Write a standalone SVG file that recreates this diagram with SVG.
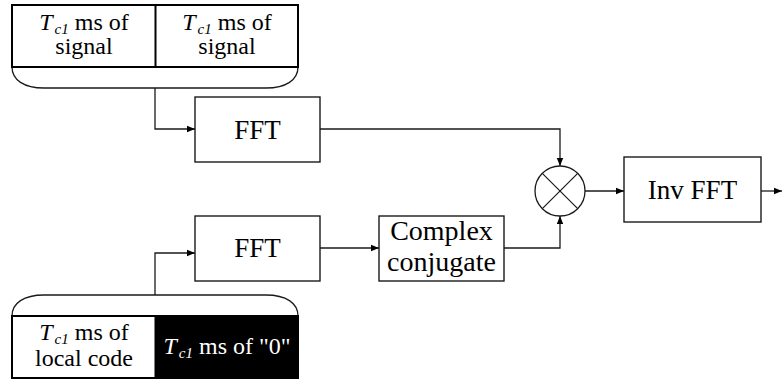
<svg xmlns="http://www.w3.org/2000/svg" width="782" height="381" viewBox="0 0 782 381">
<defs>
<style>
.box{fill:#fff;stroke:#1a1a1a;stroke-width:1.4}
.seg{fill:#fff;stroke:#000;stroke-width:2}
.wire{fill:none;stroke:#1a1a1a;stroke-width:1.3}
text{font-family:"Liberation Serif","Times New Roman",serif;fill:#000}
.big{font-size:27px}
.cc{font-size:28px}
.sm{font-size:24px}
.it{font-style:italic}
.sub{font-size:15px;font-style:italic}
.wt{fill:#fff}
</style>
<marker id="ah" markerWidth="8" markerHeight="8" refX="8" refY="4" orient="auto" markerUnits="userSpaceOnUse">
<path d="M0,0.8 L8,4 L0,7.2 Z" fill="#000"/>
</marker>
</defs>
<rect width="782" height="381" fill="#fff"/>

<g id="connectors">
<path class="wire" d="M12,67 C12,80 24,88 44,88 L266,88 C286,88 298,80 298,67"/>
<path class="wire" d="M155,88 L155,129 L195,129" marker-end="url(#ah)"/>
<path class="wire" d="M12,316 C12,303 24,295 44,295 L266,295 C286,295 298,303 298,316"/>
<path class="wire" d="M155,295 L155,253 L195,253" marker-end="url(#ah)"/>
<path class="wire" d="M320,129 L560,129 L560,166" marker-end="url(#ah)"/>
<path class="wire" d="M320,248 L379,248" marker-end="url(#ah)"/>
<path class="wire" d="M504,248 L560,248 L560,216" marker-end="url(#ah)"/>
<path class="wire" d="M585,191 L624,191" marker-end="url(#ah)"/>
<path class="wire" d="M761,191 L782,191" marker-end="url(#ah)"/>
</g>

<g id="signal-blocks">
<rect class="seg" x="12" y="5" width="286" height="62"/>
<line x1="155.5" y1="5" x2="155.5" y2="67" stroke="#000" stroke-width="2"/>
<text class="sm" x="84" y="30" text-anchor="middle"><tspan class="it">T</tspan><tspan class="sub" dx="2" dy="4">c1</tspan><tspan dy="-4"> ms of</tspan></text>
<text class="sm" x="84" y="54" text-anchor="middle">signal</text>
<text class="sm" x="227" y="30" text-anchor="middle"><tspan class="it">T</tspan><tspan class="sub" dx="2" dy="4">c1</tspan><tspan dy="-4"> ms of</tspan></text>
<text class="sm" x="227" y="54" text-anchor="middle">signal</text>
</g>

<g id="code-blocks">
<rect class="seg" x="12" y="316" width="286" height="62"/>
<rect x="155.5" y="316" width="142.5" height="62" fill="#000" stroke="#000" stroke-width="2"/>
<text class="sm" x="84" y="340" text-anchor="middle"><tspan class="it">T</tspan><tspan class="sub" dx="2" dy="4">c1</tspan><tspan dy="-4"> ms of</tspan></text>
<text class="sm" x="84" y="366" text-anchor="middle">local code</text>
<text class="sm wt" x="227" y="354" text-anchor="middle"><tspan class="it wt">T</tspan><tspan class="sub wt" dx="2" dy="4">c1</tspan><tspan class="wt" dy="-4"> ms of "0"</tspan></text>
</g>

<g id="fft-top">
<rect class="box" x="195" y="97" width="125" height="65"/>
<text class="big" x="257.5" y="139" text-anchor="middle">FFT</text>
</g>

<g id="fft-bottom">
<rect class="box" x="195" y="216" width="125" height="65"/>
<text class="big" x="257.5" y="257" text-anchor="middle">FFT</text>
</g>

<g id="complex-conjugate">
<rect class="box" x="379" y="216" width="125" height="65"/>
<text class="cc" x="441.5" y="240" text-anchor="middle">Complex</text>
<text class="cc" x="441.5" y="271" text-anchor="middle">conjugate</text>
</g>

<g id="multiplier">
<circle cx="560" cy="191" r="25" fill="#fff" stroke="#1a1a1a" stroke-width="1.3"/>
<line x1="542.3" y1="173.3" x2="577.7" y2="208.7" stroke="#1a1a1a" stroke-width="1.2"/>
<line x1="577.7" y1="173.3" x2="542.3" y2="208.7" stroke="#1a1a1a" stroke-width="1.2"/>
</g>

<g id="inv-fft">
<rect class="box" x="624" y="157" width="137" height="65"/>
<text class="big" x="692.5" y="199" text-anchor="middle">Inv FFT</text>
</g>
</svg>
